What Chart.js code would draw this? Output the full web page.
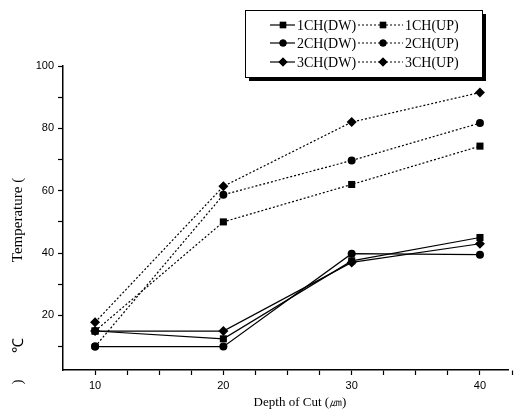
<!DOCTYPE html>
<html>
<head>
<meta charset="utf-8">
<script src="https://cdn.jsdelivr.net/npm/chart.js@4"></script>
<style>
  html, body { margin: 0; padding: 0; background: #fff; }
  #wrap { width: 516px; height: 414px; }
</style>
</head>
<body>
<div id="wrap"><canvas id="tempChart" width="516" height="414"></canvas></div>
<script>
// depth of cut (um) and measured temperatures (C)
const depth = [10, 20, 30, 40];
const ch1Dw = [15, 12.5, 37.5, 45];
const ch2Dw = [10, 10, 39.8, 39.5];
const ch3Dw = [15, 15, 37, 43];
const ch1Up = [15, 50, 62, 74.3];
const ch2Up = [10, 58.7, 69.7, 81.7];
const ch3Up = [17.8, 61.4, 82, 91.5];

const xTicks = [10, 20, 30, 40];
const yTicks = [20, 40, 60, 80, 100];

const pts = vals => vals.map((v, i) => ({ x: depth[i], y: v }));

function series(label, vals, style, dotted) {
    return {
        label: label,
        data: pts(vals),
        borderColor: '#000',
        backgroundColor: '#000',
        borderWidth: 1.2,
        borderDash: dotted ? [2, 2] : [],
        pointStyle: style,
        pointRadius: style === 'circle' ? 4 : 5,
        pointBorderWidth: 0,
        tension: 0,
        clip: false
    };
}

// legend in a framed box with a drop shadow, two columns (DW solid, UP dotted)
const boxLegend = {
    id: 'boxLegend',
    afterDraw(chart) {
        const ctx = chart.ctx;
        const x0 = 245, y0 = 10, w = 237, h = 67;
        ctx.save();
        ctx.fillStyle = '#000';
        ctx.fillRect(x0 + 4, y0 + 4, w, h);
        ctx.fillStyle = '#fff';
        ctx.fillRect(x0, y0, w, h);
        ctx.strokeStyle = '#000';
        ctx.lineWidth = 1;
        ctx.strokeRect(x0 + 0.5, y0 + 0.5, w, h);

        ctx.font = '14px "Liberation Serif", serif';
        ctx.textBaseline = 'middle';
        ctx.textAlign = 'left';
        const rows = [25, 43, 62];
        const cols = [
            { x1: 270, x2: 295, px: 283, tx: 297 },
            { x1: 358, x2: 403, px: 383, tx: 405 }
        ];
        chart.data.datasets.forEach((ds, i) => {
            const col = cols[i < 3 ? 0 : 1];
            const y = rows[i % 3];
            ctx.strokeStyle = '#000';
            ctx.lineWidth = 1.2;
            ctx.setLineDash(ds.borderDash);
            ctx.beginPath();
            ctx.moveTo(col.x1, y);
            ctx.lineTo(col.x2, y);
            ctx.stroke();
            ctx.setLineDash([]);
            ctx.fillStyle = '#000';
            Chart.helpers.drawPoint(ctx, {
                pointStyle: ds.pointStyle,
                radius: ds.pointRadius - 0.5,
                rotation: 0,
                borderWidth: 0
            }, col.px, y);
            ctx.fill();
            ctx.fillText(ds.label, col.tx, y + 1);
        });
        ctx.restore();
    }
};

// axis titles
const axisTitles = {
    id: 'axisTitles',
    afterDraw(chart) {
        const ctx = chart.ctx;
        ctx.save();
        ctx.fillStyle = '#000';
        ctx.font = '13px "Liberation Serif", serif';
        ctx.textAlign = 'center';
        ctx.textBaseline = 'middle';
        ctx.fillText('Depth of Cut (\u339B)', 300, 403);

        ctx.font = '15px "Liberation Serif", serif';
        ctx.translate(18, 0);
        ctx.rotate(-Math.PI / 2);
        ctx.fillText('Temperature (', -220, 0);
        ctx.fillText('\u2103', -345, 1);
        ctx.fillText(')', -382, 0);
        ctx.restore();
    }
};

new Chart(document.getElementById('tempChart'), {
    type: 'line',
    data: {
        datasets: [
            series('1CH(DW)', ch1Dw, 'rect', false),
            series('2CH(DW)', ch2Dw, 'circle', false),
            series('3CH(DW)', ch3Dw, 'rectRot', false),
            series('1CH(UP)', ch1Up, 'rect', true),
            series('2CH(UP)', ch2Up, 'circle', true),
            series('3CH(UP)', ch3Up, 'rectRot', true)
        ]
    },
    options: {
        responsive: false,
        animation: false,
        layout: { padding: { top: 66, right: 0, left: 0, bottom: 0 } },
        plugins: {
            legend: { display: false },
            tooltip: { enabled: false }
        },
        scales: {
            x: {
                type: 'linear',
                min: 7.5,
                max: 42.2,
                afterBuildTicks: s => {
                    const t = [];
                    for (let v = 10; v <= 42.5; v += 2.5) t.push({ value: v });
                    s.ticks = t;
                },
                afterFit: s => { s.height = 44; },
                ticks: {
                    autoSkip: false,
                    maxRotation: 0,
                    padding: 4,
                    color: '#000',
                    font: { family: '"Liberation Sans", Arial, sans-serif', size: 11 },
                    callback: v => xTicks.includes(v) ? String(v) : ''
                },
                grid: { drawOnChartArea: false, tickLength: 5, tickColor: '#000', tickWidth: 1.2 },
                border: { color: '#000', width: 1.5 }
            },
            y: {
                min: 2.5,
                max: 100,
                afterBuildTicks: s => {
                    const t = [];
                    for (let v = 10; v <= 100; v += 10) t.push({ value: v });
                    s.ticks = t;
                },
                afterFit: s => { s.width = 63; },
                ticks: {
                    autoSkip: false,
                    padding: 4,
                    color: '#000',
                    font: { family: '"Liberation Sans", Arial, sans-serif', size: 11 },
                    callback: v => yTicks.includes(v) ? String(v) : ''
                },
                grid: { drawOnChartArea: false, tickLength: 5, tickColor: '#000', tickWidth: 1.2 },
                border: { color: '#000', width: 1.5 }
            }
        }
    },
    plugins: [
        { id: 'whiteBg', beforeDraw(c) { c.ctx.save(); c.ctx.fillStyle = '#fff'; c.ctx.fillRect(0, 0, c.width, c.height); c.ctx.restore(); } },
        boxLegend,
        axisTitles
    ]
});
</script>
</body>
</html>
